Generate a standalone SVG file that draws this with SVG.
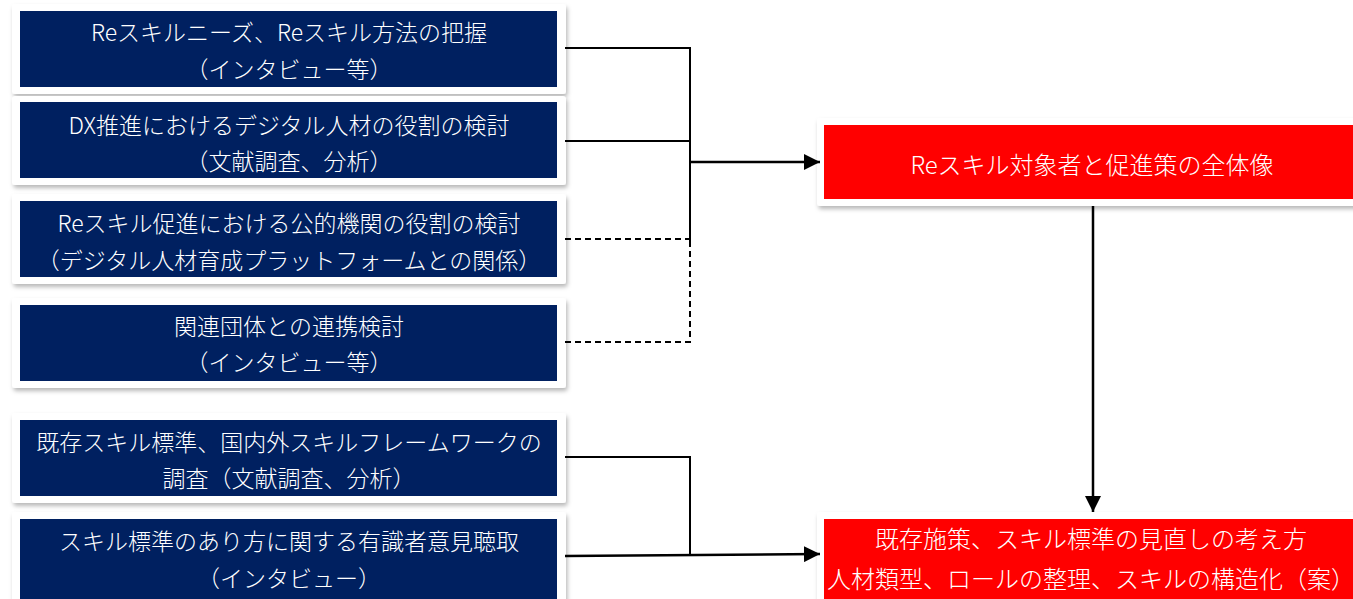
<svg xmlns="http://www.w3.org/2000/svg" width="1353" height="599" viewBox="0 0 1353 599">
<defs>
<filter id="sh" x="-5%" y="-10%" width="110%" height="125%">
<feDropShadow dx="1.5" dy="3" stdDeviation="2.2" flood-color="#000" flood-opacity="0.28"/>
</filter>
<marker id="ah" markerWidth="16" markerHeight="16" refX="16" refY="8" orient="auto" markerUnits="userSpaceOnUse">
<path d="M0,0 L16,8 L0,16 Z" fill="#000"/>
</marker>
</defs>
<style>
.card{fill:#fff;filter:url(#sh)}
.navy{fill:#002060}
.red{fill:#ff0000}
.t{font-family:"Noto Sans CJK JP","Noto Sans",sans-serif;font-size:23px;font-weight:300;fill:#fff;text-anchor:middle;dominant-baseline:central}
.tr{font-size:24px}
.ln{stroke:#000;stroke-width:2;fill:none}
.ds{stroke-dasharray:6,4}
.ar{stroke-width:2.5}
</style>
<rect width="1353" height="599" fill="#fff"/>
<g id="n1">
<rect class="card" x="12" y="4" width="554" height="90" rx="3"/>
<rect class="navy" x="20" y="11" width="537" height="76"/>
<text class="t" x="289" y="31">Reスキルニーズ、Reスキル方法の把握</text>
<text class="t" x="289" y="68">（インタビュー等）</text>
</g>
<g id="n2">
<rect class="card" x="12" y="96" width="554" height="89" rx="3"/>
<rect class="navy" x="20" y="102" width="537" height="76"/>
<text class="t" x="289" y="124">DX推進におけるデジタル人材の役割の検討</text>
<text class="t" x="289" y="160">（文献調査、分析）</text>
</g>
<g id="n3">
<rect class="card" x="12" y="194" width="554" height="90" rx="3"/>
<rect class="navy" x="20" y="201" width="537" height="76"/>
<text class="t" x="289" y="222">Reスキル促進における公的機関の役割の検討</text>
<text class="t" x="289" y="259">（デジタル人材育成プラットフォームとの関係）</text>
</g>
<g id="n4">
<rect class="card" x="12" y="298" width="554" height="90" rx="3"/>
<rect class="navy" x="20" y="305" width="537" height="76"/>
<text class="t" x="289" y="325">関連団体との連携検討</text>
<text class="t" x="289" y="361">（インタビュー等）</text>
</g>
<g id="n5">
<rect class="card" x="12" y="413" width="554" height="90" rx="3"/>
<rect class="navy" x="20" y="420" width="537" height="76"/>
<text class="t" x="289" y="441">既存スキル標準、国内外スキルフレームワークの</text>
<text class="t" x="289" y="477">調査（文献調査、分析）</text>
</g>
<g id="n6">
<rect class="card" x="12" y="512" width="554" height="95" rx="3"/>
<rect class="navy" x="20" y="519" width="537" height="85"/>
<text class="t" x="289" y="540">スキル標準のあり方に関する有識者意見聴取</text>
<text class="t" x="289" y="577">（インタビュー）</text>
</g>
<g id="r1">
<rect class="card" x="817" y="118" width="560" height="88" rx="3"/>
<rect class="red" x="824" y="125" width="540" height="74"/>
<text class="t tr" x="1092" y="163">Reスキル対象者と促進策の全体像</text>
</g>
<g id="r2">
<rect class="card" x="817" y="512" width="560" height="95" rx="3"/>
<rect class="red" x="824" y="519" width="540" height="85"/>
<text class="t tr" x="1091" y="537">既存施策、スキル標準の見直しの考え方</text>
<text class="t tr" x="1091" y="577">人材類型、ロールの整理、スキルの構造化（案）</text>
</g>
<g id="connectors">
<path class="ln" d="M565,48 H690 V246"/>
<path class="ln" d="M565,141 H690"/>
<path class="ln ds" d="M565,239 H690"/>
<path class="ln ds" d="M565,342 H690 V240"/>
<path class="ln ar" d="M690,162 H820" marker-end="url(#ah)"/>
<path class="ln ar" d="M1093,206 V512" marker-end="url(#ah)"/>
<path class="ln" d="M565,457 H690 V555"/>
<path class="ln ar" d="M565,556 L820,554" marker-end="url(#ah)"/>
</g>
</svg>
